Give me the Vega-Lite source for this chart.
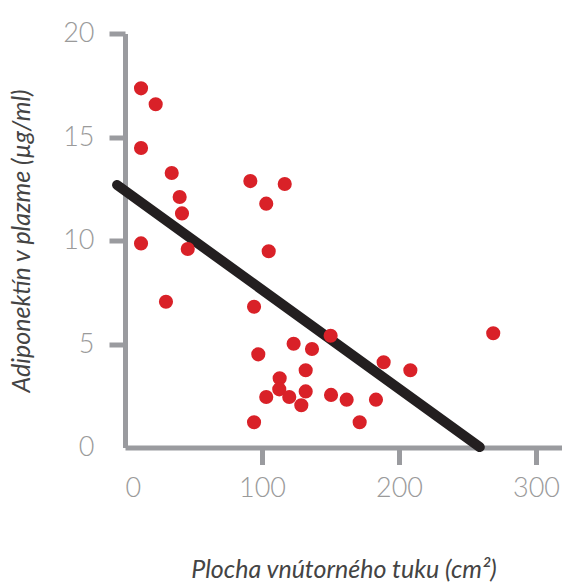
{
  "$schema": "https://vega.github.io/schema/vega-lite/v6.json",
  "width": 437,
  "height": 414,
  "autosize": "none",
  "padding": {"left": 125, "top": 33.5, "right": 0, "bottom": 139.5},
  "background": "white",
  "config": {"view": {"stroke": null}},
  "datasets": {
    "points": [
      {"fat": 11.7, "adipo": 17.35},
      {"fat": 22.4, "adipo": 16.58},
      {"fat": 11.7, "adipo": 14.47},
      {"fat": 34.1, "adipo": 13.26},
      {"fat": 39.9, "adipo": 12.10},
      {"fat": 41.6, "adipo": 11.31},
      {"fat": 11.7, "adipo": 9.86},
      {"fat": 45.8, "adipo": 9.59},
      {"fat": 29.9, "adipo": 7.04},
      {"fat": 91.5, "adipo": 12.87},
      {"fat": 116.6, "adipo": 12.73},
      {"fat": 103.1, "adipo": 11.78},
      {"fat": 104.9, "adipo": 9.48},
      {"fat": 94.2, "adipo": 6.80},
      {"fat": 150.1, "adipo": 5.40},
      {"fat": 123.1, "adipo": 5.01},
      {"fat": 136.5, "adipo": 4.76},
      {"fat": 97.3, "adipo": 4.50},
      {"fat": 131.9, "adipo": 3.73},
      {"fat": 112.9, "adipo": 3.34},
      {"fat": 112.6, "adipo": 2.81},
      {"fat": 131.9, "adipo": 2.71},
      {"fat": 103.1, "adipo": 2.44},
      {"fat": 119.9, "adipo": 2.44},
      {"fat": 150.4, "adipo": 2.54},
      {"fat": 161.8, "adipo": 2.31},
      {"fat": 128.7, "adipo": 2.04},
      {"fat": 94.2, "adipo": 1.22},
      {"fat": 171.3, "adipo": 1.22},
      {"fat": 268.8, "adipo": 5.52},
      {"fat": 188.8, "adipo": 4.12},
      {"fat": 208.3, "adipo": 3.73},
      {"fat": 183.2, "adipo": 2.31}
    ],
    "fit": [
      {"fat": -5.8, "adipo": 12.68},
      {"fat": 259, "adipo": 0.02}
    ]
  },
  "layer": [
    {
      "data": {"name": "fit"},
      "mark": {"type": "line", "color": "#231f20", "strokeWidth": 10, "strokeCap": "round", "clip": false},
      "encoding": {
        "x": {
          "field": "fat", "type": "quantitative",
          "scale": {"domain": [0, 319], "nice": false, "zero": false},
          "axis": {
            "title": "Plocha vnútorného tuku (cm²)",
            "values": [0, 100, 200, 300],
            "grid": false,
            "domainColor": "#9a9b9f", "domainWidth": 5,
            "tickColor": "#9a9b9f", "tickWidth": 5, "tickSize": 17,
            "tickOpacity": {"condition": {"test": "datum.value === 0", "value": 0}, "value": 1},
            "labelFont": "Lato", "labelFontWeight": 300, "labelFontSize": 27, "labelColor": "#9a9a9a",
            "labelPadding": 11,
            "titleFont": "Lato", "titleFontStyle": "italic", "titleFontWeight": 400, "titleFontSize": 25, "titleColor": "#444444",
            "titlePadding": 56
          }
        },
        "y": {
          "field": "adipo", "type": "quantitative",
          "scale": {"domain": [0, 20], "nice": false},
          "axis": {
            "title": "Adiponektín v plazme (µg/ml)",
            "values": [0, 5, 10, 15, 20],
            "grid": false,
            "domainColor": "#9a9b9f", "domainWidth": 5,
            "tickColor": "#9a9b9f", "tickWidth": 5, "tickSize": 16,
            "tickOpacity": {"condition": {"test": "datum.value === 0", "value": 0}, "value": 1},
            "labelFont": "Lato", "labelFontWeight": 300, "labelFontSize": 27, "labelColor": "#9a9a9a",
            "labelPadding": 15,
            "titleFont": "Lato", "titleFontStyle": "italic", "titleFontWeight": 400, "titleFontSize": 25, "titleColor": "#444444",
            "titlePadding": 28
          }
        }
      }
    },
    {
      "data": {"name": "points"},
      "mark": {"type": "circle", "color": "#d92128", "opacity": 1, "size": 200},
      "encoding": {
        "x": {"field": "fat", "type": "quantitative"},
        "y": {"field": "adipo", "type": "quantitative"}
      }
    }
  ]
}
